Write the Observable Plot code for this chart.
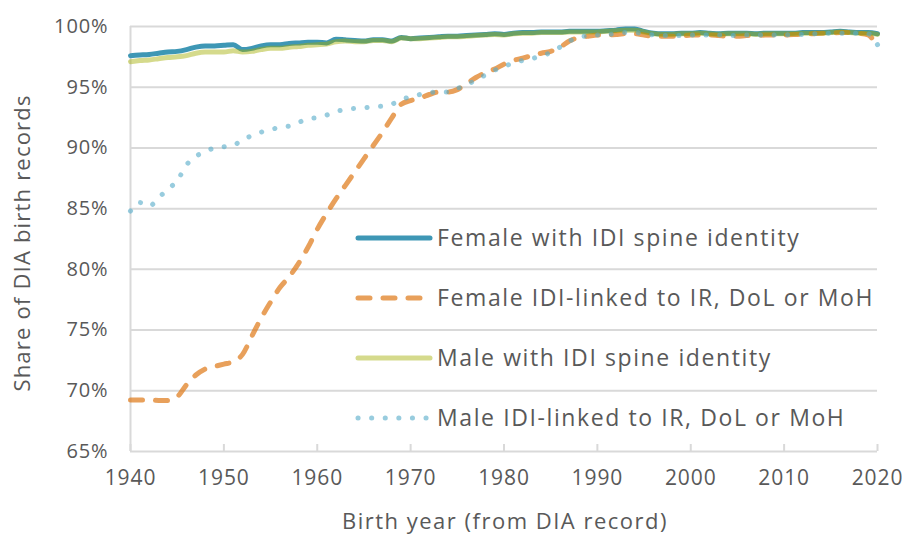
<!DOCTYPE html>
<html>
<head>
<meta charset="utf-8">
<script src="https://cdn.jsdelivr.net/npm/d3@7"></script>
<script src="https://cdn.jsdelivr.net/npm/@observablehq/plot@0.6"></script>
<style>
  html, body { margin: 0; padding: 0; background: #fff; }
  #chart { width: 902px; height: 537px; }
  svg text { font-family: "Open Sans", Lato, sans-serif; }
</style>
</head>
<body>
<div id="chart"></div>
<script>
const years = d3.range(1940, 2021);

const femaleSpine = [
  97.6, 97.65, 97.7, 97.8, 97.9, 97.95, 98.1, 98.3, 98.4, 98.4,
  98.45, 98.5, 98.1, 98.2, 98.4, 98.5, 98.5, 98.6, 98.65, 98.7,
  98.7, 98.65, 98.95, 98.9, 98.85, 98.8, 98.9, 98.9, 98.8, 99.1,
  99.0, 99.05, 99.1, 99.15, 99.2, 99.2, 99.25, 99.3, 99.35, 99.4,
  99.35, 99.45, 99.5, 99.5, 99.55, 99.55, 99.55, 99.6, 99.6, 99.6,
  99.6, 99.65, 99.7, 99.8, 99.8, 99.6, 99.45, 99.4, 99.4, 99.45,
  99.45, 99.5, 99.45, 99.4, 99.45, 99.45, 99.45, 99.4, 99.45, 99.45,
  99.45, 99.45, 99.5, 99.5, 99.5, 99.55, 99.6, 99.55, 99.5, 99.5,
  99.4
];
const femaleLinked = [
  69.25, 69.25, 69.25, 69.2, 69.2, 69.5, 70.5, 71.3, 71.8, 72.0,
  72.2, 72.4, 73.0, 74.5, 76.0, 77.3, 78.5, 79.4, 80.5, 81.8,
  83.3, 84.6, 85.8, 86.9, 88.0, 89.1, 90.2, 91.3, 92.5, 93.6,
  93.9, 94.1, 94.4, 94.6, 94.6, 94.8, 95.3, 95.8, 96.2, 96.5,
  96.9, 97.2, 97.4, 97.6, 97.8, 97.95, 98.3, 98.8, 99.1, 99.2,
  99.3, 99.3, 99.35, 99.4, 99.4, 99.3, 99.2, 99.2, 99.2, 99.2,
  99.3, 99.3, 99.3, 99.25, 99.2, 99.2, 99.25, 99.25, 99.3, 99.3,
  99.3, 99.35, 99.35, 99.4, 99.45, 99.45, 99.5, 99.5, 99.45, 99.3,
  98.3
];
const maleSpine = [
  97.1, 97.2, 97.25, 97.35, 97.45, 97.5, 97.6, 97.8, 97.9, 97.9,
  97.9, 98.0, 97.9, 97.95, 98.1, 98.2, 98.2, 98.3, 98.35, 98.45,
  98.5, 98.55, 98.75, 98.8, 98.75, 98.75, 98.85, 98.85, 98.75, 99.05,
  99.0, 99.0, 99.05, 99.1, 99.15, 99.15, 99.2, 99.25, 99.3, 99.35,
  99.3, 99.4, 99.45, 99.45, 99.5, 99.5, 99.5, 99.55, 99.55, 99.55,
  99.55, 99.6, 99.65, 99.7, 99.7, 99.55, 99.4, 99.35, 99.35, 99.4,
  99.4, 99.45, 99.4, 99.35, 99.4, 99.4, 99.4, 99.35, 99.4, 99.4,
  99.4, 99.4, 99.45, 99.45, 99.45, 99.5, 99.55, 99.5, 99.45, 99.45,
  99.35
];
const maleLinked = [
  84.8, 85.5, 85.2, 85.9, 86.6, 87.3, 88.6, 89.3, 89.7, 90.0,
  90.1, 90.2, 90.7, 91.0, 91.3, 91.5, 91.7, 91.8, 92.1, 92.4,
  92.5, 92.7, 93.0, 93.15, 93.25, 93.3, 93.4, 93.45, 93.6, 94.0,
  94.2, 94.4, 94.55, 94.6, 94.6, 94.9, 95.2, 95.6, 96.0, 96.4,
  96.7, 97.0, 97.2, 97.35, 97.6, 97.85, 98.3, 98.8, 99.1, 99.25,
  99.3, 99.35, 99.4, 99.5, 99.5, 99.4, 99.3, 99.25, 99.25, 99.25,
  99.3, 99.3, 99.3, 99.3, 99.25, 99.25, 99.3, 99.3, 99.3, 99.3,
  99.3, 99.35, 99.35, 99.4, 99.4, 99.45, 99.45, 99.45, 99.45, 99.4,
  98.5
];

const seriesNames = [
  "Female with IDI spine identity",
  "Female IDI-linked to IR, DoL or MoH",
  "Male with IDI spine identity",
  "Male IDI-linked to IR, DoL or MoH"
];
const seriesValues = [femaleSpine, femaleLinked, maleSpine, maleLinked];
const seriesStyles = [
  {stroke: "#3E97B5", strokeOpacity: 1, dash: null},
  {stroke: "rgb(222,119,22)", strokeOpacity: 0.7, dash: "12 13"},
  {stroke: "rgb(162,173,0)", strokeOpacity: 0.45, dash: null},
  {stroke: "#58ACC9", strokeOpacity: 0.62, dash: "0.1 13.5"}
];

const yTicks = [65, 70, 75, 80, 85, 90, 95, 100];
const xTicks = [1940, 1950, 1960, 1970, 1980, 1990, 2000, 2010, 2020];
const xTitle = "Birth year (from DIA record)";
const yTitle = "Share of DIA birth records";

const textColor = "#595959";
const gridColor = "#D9D9D9";
const fontStack = "'Open Sans', Lato, sans-serif";

const lineMarks = seriesValues.map((vals, k) => {
  const data = years.map((yr, i) => ({year: yr, value: vals[i]}));
  const st = seriesStyles[k];
  return Plot.line(data, {
    x: "year", y: "value",
    stroke: st.stroke, strokeOpacity: st.strokeOpacity,
    strokeWidth: 5, strokeDasharray: st.dash,
    strokeLinecap: "round", strokeLinejoin: "round",
    curve: "monotone-x"
  });
});

const chart = Plot.plot({
  width: 902,
  height: 537,
  marginLeft: 130,
  marginRight: 25,
  marginTop: 26,
  marginBottom: 86,
  style: {fontFamily: fontStack, fontSize: "20px", color: textColor, background: "#fff"},
  x: {domain: [1940, 2020]},
  y: {domain: [65, 100]},
  marks: [
    Plot.ruleY(yTicks, {stroke: gridColor, strokeWidth: 2}),
    Plot.ruleX([1940], {stroke: gridColor, strokeWidth: 2}),
    Plot.ruleX(xTicks, {y1: 65, y2: 65, insetTop: -7, stroke: gridColor, strokeWidth: 2}),
    Plot.axisY(yTicks, {tickSize: 0, tickPadding: 22, tickFormat: d => d + "%", label: null, fill: textColor, fontSize: 20}),
    Plot.axisX(xTicks, {tickSize: 0, tickPadding: 19, tickFormat: d => String(d), label: null, fill: textColor, fontSize: 21}),
    ...lineMarks
  ]
});

document.getElementById("chart").appendChild(chart);

// Titles and legend
const svg = d3.select(chart);
svg.selectAll("text").style("letter-spacing", "0.9px");
svg.append("text")
  .attr("x", 505).attr("y", 529)
  .attr("text-anchor", "middle")
  .attr("fill", textColor)
  .style("font-size", "22px")
  .style("letter-spacing", "1.5px")
  .text(xTitle);
svg.append("text")
  .attr("transform", "translate(30,243) rotate(-90)")
  .attr("text-anchor", "middle")
  .attr("fill", textColor)
  .style("font-size", "22px")
  .style("letter-spacing", "1.2px")
  .text(yTitle);

const legendY = [238, 298, 358, 418];
const lg = svg.append("g");
seriesNames.forEach((name, k) => {
  const st = seriesStyles[k];
  lg.append("line")
    .attr("x1", 358).attr("x2", 430)
    .attr("y1", legendY[k]).attr("y2", legendY[k])
    .attr("stroke", st.stroke)
    .attr("stroke-opacity", st.strokeOpacity)
    .attr("stroke-width", 5)
    .attr("stroke-linecap", "round")
    .attr("stroke-dasharray", st.dash);
  lg.append("text")
    .attr("x", 437).attr("y", legendY[k])
    .attr("dy", "0.35em")
    .attr("text-anchor", "start")
    .attr("fill", textColor)
    .style("font-size", "23px")
    .style("letter-spacing", "1.6px")
    .text(name);
});
</script>
</body>
</html>
